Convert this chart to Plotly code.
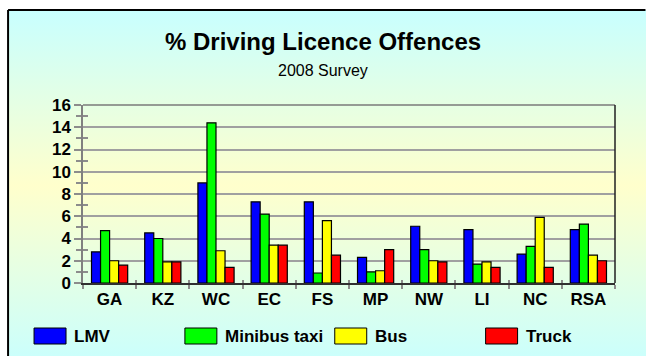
import base64
import plotly.graph_objects as go

# Provinces surveyed and share of driving-licence offences (%) per vehicle class
provinces = ["GA", "KZ", "WC", "EC", "FS", "MP", "NW", "LI", "NC", "RSA"]
lmv = [2.8, 4.5, 9.0, 7.3, 7.3, 2.3, 5.1, 4.8, 2.6, 4.8]
minibus_taxi = [4.7, 4.0, 14.4, 6.2, 0.9, 1.0, 3.0, 1.7, 3.3, 5.3]
bus = [2.0, 1.9, 2.9, 3.4, 5.6, 1.1, 2.0, 1.9, 5.9, 2.5]
truck = [1.6, 1.9, 1.4, 3.4, 2.5, 3.0, 1.9, 1.4, 1.4, 2.0]

series_names = ["LMV", "Minibus taxi", "Bus", "Truck"]
series_values = [lmv, minibus_taxi, bus, truck]
series_colors = ["#0000FF", "#00FF00", "#FFFF00", "#FF0000"]

y_ticks = list(range(0, 17, 2))

W, H = 646, 356
L, R, T, B = 83, 30.5, 105, 73
PW, PH = W - L - R, H - T - B
FONT = "Arial, Liberation Sans, sans-serif"


def px_x(px):
    return (px - L) / PW


def px_y(py):
    return (H - B - py) / PH


fig = go.Figure()
for name, vals, col in zip(series_names, series_values, series_colors):
    fig.add_trace(go.Bar(
        x=provinces, y=vals, name=name,
        marker=dict(color=col, line=dict(color="#000000", width=1.2)),
        showlegend=False,
    ))

# empty trace holding the overlay axes used for the inner half of the ticks
fig.add_trace(go.Scatter(x=[], y=[], xaxis="x2", yaxis="y2", showlegend=False, hoverinfo="skip"))

# vertical cyan -> yellow -> cyan background
svg = (
    '<svg xmlns="http://www.w3.org/2000/svg" viewBox="0 0 100 100" width="100" height="100" '
    'preserveAspectRatio="none">'
    '<defs><linearGradient id="g" x1="0" y1="0" x2="0" y2="1">'
    '<stop offset="0" stop-color="#C8FFFF"/>'
    '<stop offset="0.49" stop-color="#FFFFCC"/>'
    '<stop offset="1" stop-color="#C8FFFF"/>'
    '</linearGradient></defs><rect x="0" y="0" width="100" height="100" fill="url(#g)"/></svg>'
)
bg_src = "data:image/svg+xml;base64," + base64.b64encode(svg.encode()).decode()

fig.update_layout(
    width=W, height=H,
    margin=dict(l=L, r=R, t=T, b=B),
    paper_bgcolor="#FFFFFF",
    plot_bgcolor="rgba(0,0,0,0)",
    barmode="group",
    bargap=0.32,
    bargroupgap=0,
    images=[dict(
        source=bg_src, xref="paper", yref="paper",
        x=px_x(8), y=px_y(10), sizex=px_x(W + 12) - px_x(8), sizey=px_y(10) - px_y(H + 12),
        xanchor="left", yanchor="top", sizing="stretch", layer="below",
    )],
    xaxis=dict(
        type="category", showgrid=False, zeroline=False,
        showline=True, linecolor="#303030", linewidth=1.5,
        ticks="outside", tickson="boundaries", ticklen=4, tickwidth=1.5, tickcolor="#8C8C8C",
        tickfont=dict(family=FONT, size=17, color="#000000", weight="bold"),
    ),
    yaxis=dict(
        range=[0, 16], tickvals=y_ticks, showgrid=True, gridcolor="#A0A0A0", gridwidth=1.5,
        zeroline=False, showline=True, linecolor="#808080", linewidth=1.5,
        ticks="outside", ticklen=7, tickwidth=1.5, tickcolor="#8C8C8C",
        minor=dict(dtick=1, ticks="outside", ticklen=5, tickwidth=1.5, tickcolor="#8C8C8C", showgrid=False),
        tickfont=dict(family=FONT, size=17, color="#000000", weight="bold"),
    ),
    xaxis2=dict(
        overlaying="x", anchor="y2", range=[-0.5, 9.5], tickvals=[i - 0.5 for i in range(11)],
        ticks="inside", ticklen=3, tickwidth=1.5, tickcolor="#8C8C8C",
        showticklabels=False, showgrid=False, zeroline=False, showline=False,
    ),
    yaxis2=dict(
        overlaying="y", anchor="x2", side="left", range=[0, 16], tickvals=list(range(1, 16, 2)),
        ticks="inside", ticklen=5, tickwidth=1.5, tickcolor="#8C8C8C",
        showticklabels=False, showgrid=False, zeroline=False, showline=False,
    ),
    showlegend=False,
)

shapes = [
    # outer frame: only its top and left edges fall inside the canvas
    dict(type="line", xref="paper", yref="paper", x0=px_x(8), x1=px_x(W), y0=px_y(10), y1=px_y(10),
         line=dict(color="#000000", width=2), layer="above"),
    dict(type="line", xref="paper", yref="paper", x0=px_x(8), x1=px_x(8), y0=px_y(10), y1=px_y(H),
         line=dict(color="#000000", width=2), layer="above"),
    # plot-area top and right edges
    dict(type="line", xref="paper", yref="paper", x0=0, x1=1, y0=1, y1=1,
         line=dict(color="#7A7A7A", width=1.5)),
    dict(type="line", xref="paper", yref="paper", x0=1, x1=1, y0=0, y1=1,
         line=dict(color="#202020", width=1.5)),
]

annotations = [
    dict(text="% Driving Licence Offences", xref="paper", yref="paper", x=px_x(323), y=px_y(42),
         xanchor="center", yanchor="middle", showarrow=False,
         font=dict(family=FONT, size=24, color="#000000", weight="bold")),
    dict(text="2008 Survey", xref="paper", yref="paper", x=px_x(323), y=px_y(70),
         xanchor="center", yanchor="middle", showarrow=False,
         font=dict(family=FONT, size=16, color="#000000")),
]

# legend row drawn as coloured boxes with labels
legend_box_x = [34, 185, 335, 486]
for name, col, bx in zip(series_names, series_colors, legend_box_x):
    shapes.append(dict(type="rect", xref="paper", yref="paper",
                       x0=px_x(bx), x1=px_x(bx + 32), y0=px_y(344), y1=px_y(328),
                       fillcolor=col, line=dict(color="#000000", width=1)))
    annotations.append(dict(text=name, xref="paper", yref="paper", x=px_x(bx + 38), y=px_y(336),
                            xanchor="left", yanchor="middle", showarrow=False,
                            font=dict(family=FONT, size=17, color="#000000", weight="bold")))

fig.update_layout(shapes=shapes, annotations=annotations)
fig.write_html(
    "out.html",
    post_script=(
        "document.documentElement.style.overflow='hidden';"
        "document.body.style.margin='0';document.body.style.overflow='hidden';"
    ),
)
